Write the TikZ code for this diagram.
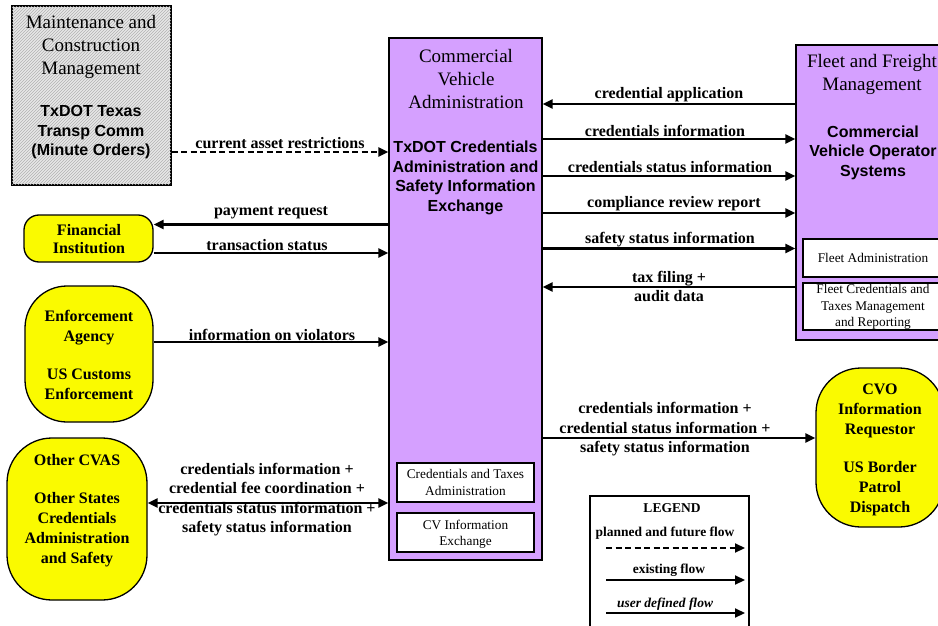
\documentclass[tikz,border=0pt]{standalone}
\usepackage{fontspec}
\setmainfont{Liberation Serif}
\setsansfont{Liberation Sans}
\usetikzlibrary{arrows.meta,patterns}
\definecolor{lilac}{RGB}{213,160,255}
\definecolor{yel}{RGB}{250,250,0}
\begin{document}
\begin{tikzpicture}[x=1pt,y=-1pt,
  boxs/.style={draw, line width=1.3pt, inner sep=0pt},
  subbox/.style={draw, fill=white, line width=1.3pt, inner sep=0pt},
  ybox/.style={draw, fill=yel, line width=1.3pt, inner sep=0pt},
  ttl/.style={font=\fontsize{19}{23}\selectfont, align=center, inner sep=0pt},
  bsans/.style={font=\fontsize{16}{19.5}\sffamily\bfseries\selectfont, align=center, inner sep=0pt},
  bser/.style={font=\fontsize{16}{20}\bfseries\selectfont, align=center, inner sep=0pt},
  small/.style={font=\fontsize{13.3}{16.5}\selectfont, align=center, inner sep=0pt},
  lbl/.style={font=\fontsize{16}{19.5}\bfseries\selectfont, align=center, inner sep=0pt},
  leg/.style={font=\fontsize{13.5}{16}\bfseries\selectfont, align=center, inner sep=0pt},
  arr/.style={line width=2.2pt, -{Triangle[length=10pt,width=9pt]}},
  darr/.style={line width=2.2pt, {Triangle[length=10pt,width=9pt]}-{Triangle[length=10pt,width=9pt]}},
  dasharr/.style={arr, dash pattern=on 6pt off 3.5pt}
]
\useasboundingbox (0,0) rectangle (938,626);
\clip (0,0) rectangle (938,626);
\fill[white] (0,0) rectangle (938,626);

% Maintenance box
\node[boxs, fill=gray!18, minimum width=159pt, minimum height=179pt] (maint) at (91.5,95.5) {};
\fill[pattern=north east lines, pattern color=gray!60] (maint.north west) rectangle (maint.south east);
\draw[line width=1.3pt] (maint.north west) rectangle (maint.south east);
\node[ttl] (mainttitle) at (91,46.5) {Maintenance and\\Construction\\Management};
\node[bsans] (maintsub) at (91,132.5) {TxDOT Texas\\Transp Comm\\(Minute Orders)};

% Central CVA box
\node[boxs, fill=lilac, minimum width=153pt, minimum height=522pt] (cva) at (465.5,299) {};
\node[ttl] (cvatitle) at (466,79) {Commercial\\Vehicle\\Administration};
\node[bsans] (cvasub) at (465.5,178) {TxDOT Credentials\\Administration and\\Safety Information\\Exchange};
\node[subbox, minimum width=137pt, minimum height=39pt] (cvatax) at (465.5,482.5) {};
\node[small] (cvataxt) at (465.5,482.5) {Credentials and Taxes\\Administration};
\node[subbox, minimum width=137pt, minimum height=39pt] (cvainfo) at (465.5,532.5) {};
\node[small] (cvainfot) at (465.5,534) {CV Information\\Exchange};

% Fleet box
\node[boxs, fill=lilac, minimum width=154pt, minimum height=295pt] (fleet) at (873,192.5) {};
\node[ttl] (fleettitle) at (872,74) {Fleet and Freight\\Management};
\node[bsans] (fleetsub) at (873,152.5) {Commercial\\Vehicle Operator\\Systems};
\node[subbox, minimum width=140pt, minimum height=38pt] (fleetadm) at (873,258) {};
\node[small] (fleetadmt) at (873,258) {Fleet Administration};
\node[subbox, minimum width=140pt, minimum height=47pt] (fleetcred) at (873,306.5) {};
\node[small] (fleetcredt) at (873,307) {Fleet Credentials and\\Taxes Management\\and Reporting};

% Yellow terminators
\node[ybox, rounded corners=15pt, minimum width=129pt, minimum height=47pt] (fin) at (88.5,238.5) {};
\node[bser, font=\fontsize{16}{18.5}\bfseries\selectfont] (fint) at (89,239) {Financial\\Institution};
\node[ybox, rounded corners=42pt, minimum width=128pt, minimum height=136pt] (enf) at (89,354) {};
\node[bser] (enft) at (89,355) {Enforcement\\Agency\\[18pt]US Customs\\Enforcement};
\node[ybox, rounded corners=45pt, minimum width=140pt, minimum height=162pt] (other) at (77,519) {};
\node[bser] (othert) at (77,511) {Other CVAS\\[18pt]Other States\\Credentials\\Administration\\and Safety};
\node[ybox, rounded corners=45pt, minimum width=128pt, minimum height=159pt] (cvo) at (880,447.5) {};
\node[bser] (cvot) at (880,450) {CVO\\Information\\Requestor\\[18pt]US Border\\Patrol\\Dispatch};

% Connectors
\draw[dasharr] (maint.east |- 0,152) -- (cva.west |- 0,152);
\node[lbl] (l1) at (280,143) {current asset restrictions};

\draw[arr] (fleet.west |- 0,104) -- (cva.east |- 0,104);
\node[lbl] (l2) at (669,95) {credential application};
\draw[arr] (cva.east |- 0,139) -- (fleet.west |- 0,139);
\node[lbl] (l3) at (665,131) {credentials information};
\draw[arr] (cva.east |- 0,176) -- (fleet.west |- 0,176);
\node[lbl] (l4) at (670,167) {credentials status information};
\draw[arr] (cva.east |- 0,213) -- (fleet.west |- 0,213);
\node[lbl] (l5) at (674,204) {compliance review report};
\draw[arr] (cva.east |- 0,248.5) -- (fleet.west |- 0,248.5);
\node[lbl] (l6) at (670,240) {safety status information};
\draw[arr] (fleet.west |- 0,287) -- (cva.east |- 0,287);
\node[lbl] (l7) at (669,286.5) {tax filing +\\audit data};

\draw[arr] (cva.west |- 0,224.5) -- (fin.east |- 0,224.5);
\node[lbl] (l8) at (271,213) {payment request};
\draw[arr] (fin.east |- 0,253) -- (cva.west |- 0,253);
\node[lbl] (l9) at (267,245.5) {transaction status};

\draw[arr] (enf.east |- 0,342) -- (cva.west |- 0,342);
\node[lbl] (l10) at (272,335) {information on violators};

\draw[darr] (other.east |- 0,503) -- (cva.west |- 0,503);
\node[lbl] (l11) at (267,499.5) {credentials information +\\credential fee coordination +\\credentials status information +\\safety status information};

\draw[arr] (cva.east |- 0,438) -- (cvo.west |- 0,438);
\node[lbl] (l12) at (665,429.5) {credentials information +\\credential status information +\\safety status information};

% Legend
\node[boxs, fill=white, minimum width=159pt, minimum height=150pt] (legend) at (669.5,571) {};
\node[leg] (legt) at (672,508) {LEGEND};
\node[leg] (leg1) at (665,533) {planned and future flow};
\coordinate (la1) at (606,548);
\coordinate (lb1) at (745,548);
\draw[dasharr] (la1) -- (lb1);
\node[leg] (leg2) at (669,570) {existing flow};
\coordinate (la2) at (606,580);
\coordinate (lb2) at (745,580);
\draw[arr] (la2) -- (lb2);
\node[leg, font=\fontsize{13.5}{16}\bfseries\itshape\selectfont] (leg3) at (665,604) {user defined flow};
\coordinate (la3) at (606,613);
\coordinate (lb3) at (745,613);
\draw[arr] (la3) -- (lb3);
\end{tikzpicture}
\end{document}
